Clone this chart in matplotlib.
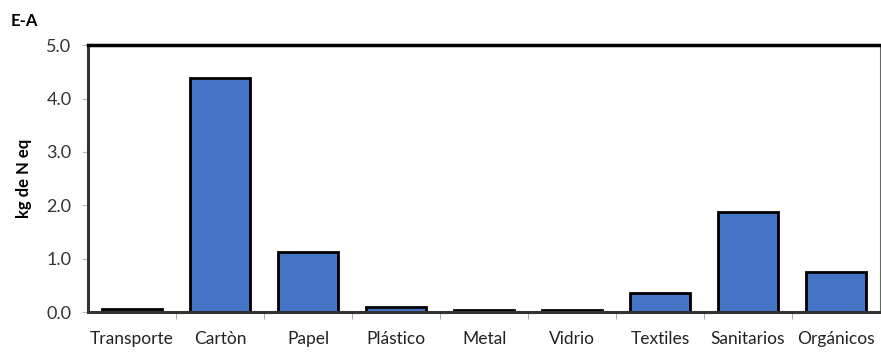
import matplotlib.pyplot as plt

categorias = ['Transporte', 'Cartòn', 'Papel', 'Plástico', 'Metal',
              'Vidrio', 'Textiles', 'Sanitarios', 'Orgánicos']
valores = [0.05, 4.38, 1.12, 0.10, 0.03, 0.03, 0.36, 1.87, 0.75]
yticks = [0.0, 1.0, 2.0, 3.0, 4.0, 5.0]

plt.rcParams['font.family'] = ['Lato', 'DejaVu Sans']

fig = plt.figure(figsize=(8.81, 3.52), dpi=100)
ax = fig.add_axes([0.1, 0.1136, 0.899, 0.758])

x = range(len(categorias))
ax.bar(x, valores, width=0.68, color='#4472C4', edgecolor='black', linewidth=2)

ax.set_xlim(-0.5, len(categorias) - 0.5)
ax.set_ylim(0, 5.0)
ax.set_yticks(yticks)
ax.set_yticklabels(['%.1f' % v for v in yticks], fontsize=13, color='#333333')
ax.set_xticks(list(x))
ax.set_xticklabels(categorias, fontsize=12.5, color='#222222')
ax.tick_params(axis='x', length=0, pad=14)
ax.tick_params(axis='y', length=4, color='#bbbbbb', pad=8)
# marcas entre categorias
ax.set_xticks([i + 0.5 for i in range(len(categorias) - 1)], minor=True)
ax.tick_params(axis='x', which='minor', length=5, color='#999999')

ax.spines['top'].set_linewidth(2.5)
ax.spines['left'].set_linewidth(2.2)
ax.spines['left'].set_color('#333333')
ax.spines['bottom'].set_linewidth(2.2)
ax.spines['bottom'].set_color('#333333')
ax.spines['right'].set_linewidth(0.8)
ax.spines['right'].set_color('#666666')

ax.set_ylabel('kg de N eq', fontsize=12, fontweight='bold', labelpad=10)
fig.text(0.012, 0.925, 'E-A', fontsize=12, fontweight='bold')

fig.savefig('out.png', dpi=100)
